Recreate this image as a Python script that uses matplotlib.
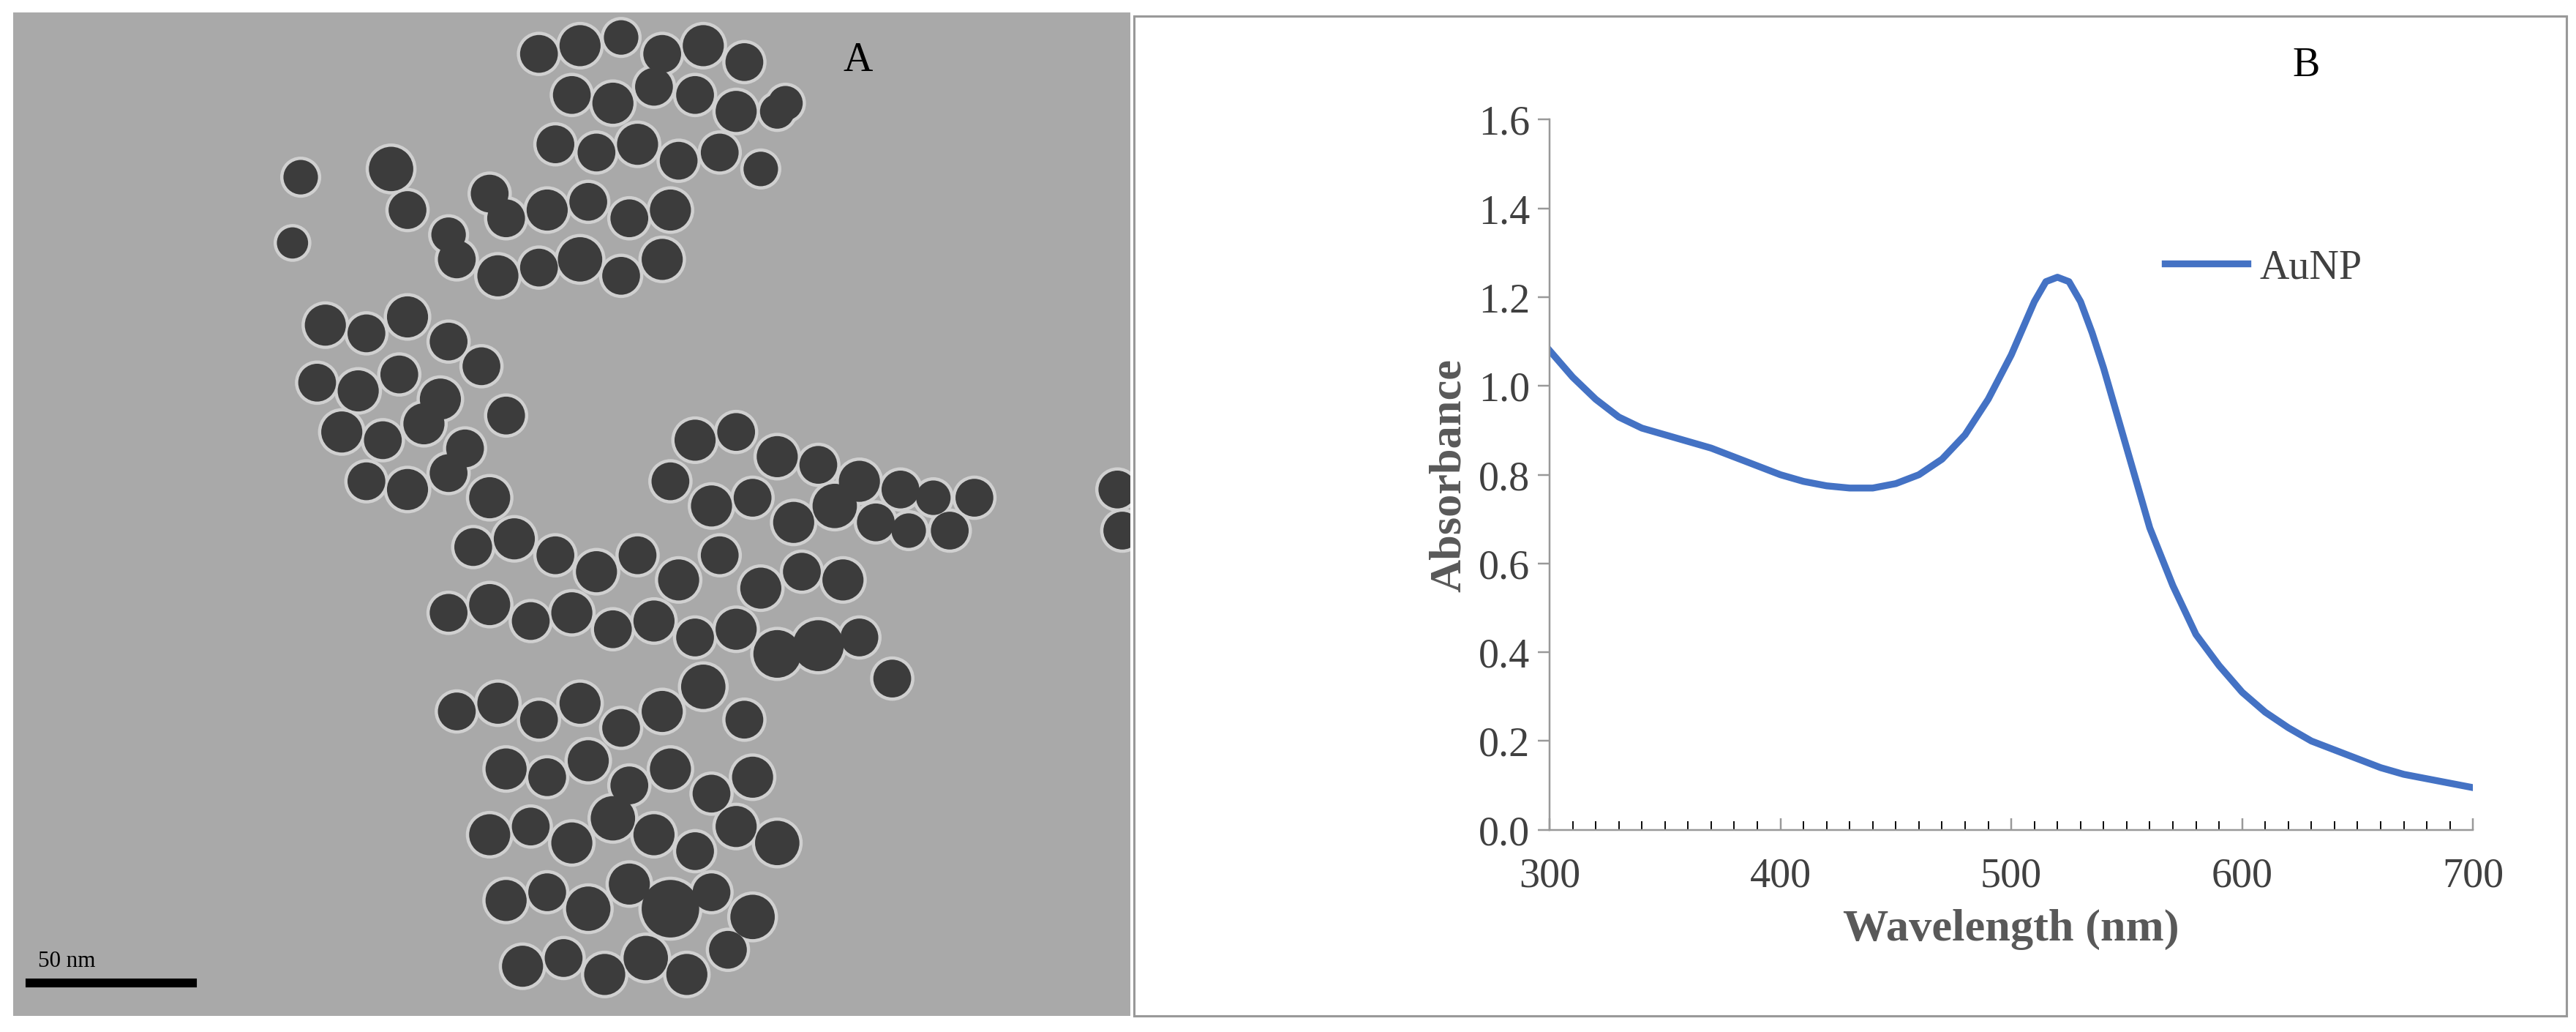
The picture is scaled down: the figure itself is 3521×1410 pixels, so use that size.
import numpy as np
import matplotlib.pyplot as plt
from matplotlib.patches import Circle, Rectangle

plt.rcParams['font.family'] = ['Liberation Serif', 'DejaVu Serif']

# UV-vis spectrum
wavelength = [300, 310, 320, 330, 340, 350, 360, 370, 380, 390, 400, 410, 420, 430, 440,
              450, 460, 470, 480, 490, 500, 505, 510, 515, 520, 525, 530, 535, 540, 550,
              560, 570, 580, 590, 600, 610, 620, 630, 640, 650, 660, 670, 680, 690, 700]
absorbance = [1.08, 1.02, 0.97, 0.93, 0.905, 0.89, 0.875, 0.86, 0.84, 0.82, 0.80, 0.785, 0.775, 0.77, 0.77,
              0.78, 0.80, 0.835, 0.89, 0.97, 1.07, 1.13, 1.19, 1.235, 1.245, 1.235, 1.19, 1.12, 1.04, 0.86,
              0.68, 0.55, 0.44, 0.37, 0.31, 0.265, 0.23, 0.20, 0.18, 0.16, 0.14, 0.125, 0.115, 0.105, 0.095]

# TEM particles: x, y (image pixels), radius
px = [175, 170, 230, 240, 265, 290, 320, 345, 370, 395, 420, 445, 470, 340, 365, 390, 415, 440, 465,
      330, 355, 380, 405, 430, 455, 300, 325, 350, 375, 400, 270, 295, 320, 345, 370, 395, 190, 215,
      240, 265, 185, 210, 235, 260, 285, 200, 225, 250, 275, 300, 215, 240, 265, 290, 415, 440, 465,
      490, 515, 540, 560, 585, 400, 425, 450, 475, 500, 525, 545, 570, 280, 305, 330, 355, 380, 405,
      430, 455, 480, 505, 265, 290, 315, 340, 365, 390, 415, 440, 465, 490, 515, 535, 270, 295, 320,
      345, 370, 395, 420, 445, 300, 325, 350, 375, 400, 425, 450, 290, 315, 340, 365, 390, 415, 440,
      465, 300, 325, 350, 375, 400, 425, 450, 310, 335, 360, 385, 410, 435, 672, 675]
py = [100, 140, 95, 120, 135, 110, 25, 20, 15, 25, 20, 30, 55, 50, 55, 45, 50, 60, 60,
      80, 85, 80, 90, 85, 95, 125, 120, 115, 125, 120, 150, 160, 155, 150, 160, 150, 190, 195,
      185, 200, 225, 230, 220, 235, 215, 255, 260, 250, 265, 245, 285, 290, 280, 295, 260, 255, 270,
      275, 285, 290, 295, 295, 285, 300, 295, 310, 300, 310, 315, 315, 325, 320, 330, 340, 330, 345,
      330, 350, 340, 345, 365, 360, 370, 365, 375, 370, 380, 375, 390, 385, 380, 405, 425, 420, 430,
      420, 435, 425, 410, 430, 460, 465, 455, 470, 460, 475, 465, 500, 495, 505, 490, 500, 510, 495,
      505, 540, 535, 545, 530, 545, 535, 550, 580, 575, 585, 575, 585, 570, 290, 315]
pr = [11, 10, 14, 12, 11, 12, 12, 13, 11, 12, 13, 12, 11, 12, 13, 12, 12, 13, 11,
      12, 12, 13, 12, 12, 11, 12, 13, 12, 12, 13, 12, 13, 12, 14, 12, 13, 13, 12,
      13, 12, 12, 13, 12, 13, 12, 13, 12, 13, 12, 12, 12, 13, 12, 13, 13, 12, 13,
      12, 13, 12, 11, 12, 12, 13, 12, 13, 14, 12, 11, 12, 12, 13, 12, 13, 12, 13,
      12, 13, 12, 13, 12, 13, 12, 13, 12, 13, 12, 13, 15, 16, 12, 12, 12, 13, 12,
      13, 12, 13, 14, 12, 13, 12, 13, 12, 13, 12, 13, 13, 12, 13, 14, 13, 12, 13,
      14, 13, 12, 14, 13, 18, 12, 14, 13, 12, 13, 14, 13, 12, 12, 12]

fig = plt.figure(figsize=(15.68, 6.28), dpi=224.6)

# panel A: TEM image
axA = fig.add_axes([8 / 1568, 10 / 628, 680 / 1568, 610 / 628])
axA.set_xlim(0, 680)
axA.set_ylim(610, 0)
axA.set_facecolor('#a9a9a9')
axA.set_xticks([])
axA.set_yticks([])
for s in axA.spines.values():
    s.set_visible(False)
for x, y, r in zip(px, py, pr):
    axA.add_patch(Circle((x, y), r + 1.5, color='#d0d0d0', lw=0))
for x, y, r in zip(px, py, pr):
    axA.add_patch(Circle((x, y), r - 0.5, color='#3c3c3c', lw=0))
axA.add_patch(Rectangle((8, 588), 103, 4, color='black'))
axA.text(15, 580, '50 nm', fontsize=10)
axA.text(505, 35, 'A', fontsize=18)

# frame around panel B
fig.patches.append(Rectangle((690 / 1568, 10 / 628), 872 / 1568, 608 / 628, transform=fig.transFigure,
                             fill=False, edgecolor='#999999', lw=1))
fig.text(1395 / 1568, 1 - 40 / 628, 'B', fontsize=18, va='center')

# panel B: spectrum
ax = fig.add_axes([943 / 1568, 1 - 505 / 628, 562 / 1568, 432 / 628])
ax.plot(wavelength, absorbance, color='#4472C4', lw=3, label='AuNP')
ax.set_xlim(300, 700)
ax.set_ylim(0, 1.6)
ax.set_xticks([300, 400, 500, 600, 700])
ax.set_xticks(np.arange(300, 701, 10), minor=True)
ax.set_yticks(np.arange(0, 1.61, 0.2))
ax.set_yticklabels([f'{v:.1f}' for v in np.arange(0, 1.61, 0.2)])
ax.tick_params(axis='both', labelsize=18, colors='#404040', length=5, color='#999999')
ax.tick_params(axis='x', which='both', direction='in')
ax.tick_params(axis='x', which='minor', length=4)
ax.tick_params(axis='x', pad=12)
for s in ['top', 'right']:
    ax.spines[s].set_visible(False)
for s in ['left', 'bottom']:
    ax.spines[s].set_color('#999999')
ax.set_xlabel('Wavelength (nm)', fontsize=20, fontweight='bold', color='#595959', labelpad=6)
ax.set_ylabel('Absorbance', fontsize=20, fontweight='bold', color='#595959', labelpad=4)
ax.legend(loc='upper right', bbox_to_anchor=(0.92, 0.87), frameon=False, fontsize=18,
          handlelength=2.0, handletextpad=0.3, labelcolor='#404040')

fig.savefig('out.png')
